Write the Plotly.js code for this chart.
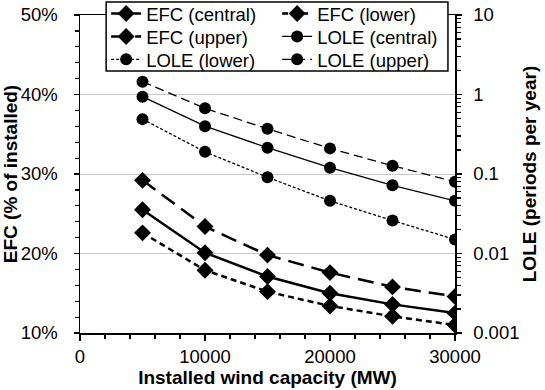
<!DOCTYPE html>
<html>
<head>
<meta charset="utf-8">
<script src="https://cdn.plot.ly/plotly-3.0.1.min.js"></script>
<style>
  body { margin: 0; background: #fff; }
  #chart { width: 545px; height: 390px; }
</style>
</head>
<body>
<div id="chart"></div>
<script>
const capacity = [5000, 10000, 15000, 20000, 25000, 30000];

// EFC, % of installed
const efcCentral = [25.5, 20.1, 17.1, 15.0, 13.6, 12.5];
const efcLower = [22.6, 17.9, 15.2, 13.4, 12.1, 11.0];
const efcUpper = [29.2, 23.4, 19.8, 17.6, 15.8, 14.6];

// LOLE, periods per year
const loleCentral = [0.94, 0.40, 0.214, 0.12, 0.072, 0.046];
const loleLower = [0.49, 0.19, 0.091, 0.046, 0.026, 0.015];
const loleUpper = [1.45, 0.67, 0.37, 0.21, 0.127, 0.08];

const black = "#000";

function efc(name, y, dash, leg) {
    return {
        x: capacity, y: y, name: name, yaxis: "y", legend: leg,
        mode: "lines+markers",
        line: {color: black, width: 2.5, dash: dash},
        marker: {symbol: "diamond", size: 13, color: black}
    };
}
function lole(name, y, dash, leg) {
    return {
        x: capacity, y: y, name: name, yaxis: "y2", legend: leg,
        mode: "lines+markers",
        line: {color: black, width: 1.3, dash: dash},
        marker: {symbol: "circle", size: 12, color: black}
    };
}

// the reference legend is 2 columns x 3 rows, one plotly legend per row
const traces = [
    efc("EFC (central)", efcCentral, "solid", "legend"),
    efc("EFC (lower)", efcLower, "6px,4px", "legend"),
    efc("EFC (upper)", efcUpper, "16px,8px", "legend2"),
    lole("LOLE (central)", loleCentral, "solid", "legend2"),
    lole("LOLE (lower)", loleLower, "3px,2px", "legend3"),
    lole("LOLE (upper)", loleUpper, "9px,5px", "legend3")
];

const font = "Liberation Sans, Arial, sans-serif";
const tickFont = {family: font, size: 18.5, color: "#000"};
const titleFont = {family: font, size: 19, color: "#000", weight: "bold"};

function legendRow(y) {
    return {
        orientation: "h",
        x: 0.0697, xanchor: "left",
        y: y, yanchor: "middle",
        entrywidth: 126,
        itemwidth: 30,
        bgcolor: "rgba(0,0,0,0)",
        borderwidth: 0,
        font: tickFont
    };
}

const layout = {
    width: 545, height: 390,
    margin: {l: 80, r: 90, t: 15, b: 57, autoexpand: false},
    paper_bgcolor: "#fff", plot_bgcolor: "#fff",
    showlegend: true,
    legend: legendRow(1.003),
    legend2: legendRow(0.931),
    legend3: legendRow(0.859),
    // frame behind the three legend rows
    shapes: [{
        type: "rect", xref: "paper", yref: "paper",
        x0: 0.0697, x1: 0.9812, y0: 0.824, y1: 1.041,
        fillcolor: "#fff", line: {color: black, width: 1.5}
    }],
    xaxis: {
        range: [0, 30000],
        dtick: 10000,
        tickformat: "d",
        showgrid: false, zeroline: false,
        showline: true, linecolor: black, linewidth: 1.5, mirror: true,
        ticks: "outside", ticklen: 6, tickwidth: 1.5, tickcolor: black,
        minor: {dtick: 2000, ticks: "outside", ticklen: 4, tickwidth: 1.2, tickcolor: black},
        tickfont: tickFont,
        title: {text: "Installed wind capacity (MW)", font: titleFont, standoff: 2}
    },
    yaxis: {
        range: [10, 50],
        dtick: 10,
        ticksuffix: "%",
        showgrid: true, gridcolor: "#c8c8c8", gridwidth: 1,
        zeroline: false,
        showline: true, linecolor: black, linewidth: 1.5,
        ticks: "outside", ticklen: 5, tickwidth: 1.5, tickcolor: black,
        ticklabelstandoff: 12,
        minor: {dtick: 2, ticks: "outside", ticklen: 4, tickwidth: 1.2, tickcolor: black},
        tickfont: tickFont,
        title: {text: "EFC (% of installed)", font: titleFont, standoff: 0}
    },
    yaxis2: {
        type: "log",
        range: [-3, 1],
        dtick: 1,
        overlaying: "y", side: "right",
        showgrid: false, zeroline: false,
        showline: true, linecolor: black, linewidth: 1.5,
        ticks: "outside", ticklen: 5, tickwidth: 1.5, tickcolor: black,
        ticklabelstandoff: 8,
        minor: {dtick: "D1", ticks: "outside", ticklen: 4, tickwidth: 1.2, tickcolor: black},
        tickfont: tickFont,
        title: {text: "LOLE (periods per year)", font: titleFont, standoff: 4}
    }
};

Plotly.newPlot("chart", traces, layout, {displayModeBar: false, staticPlot: true});
</script>
</body>
</html>
